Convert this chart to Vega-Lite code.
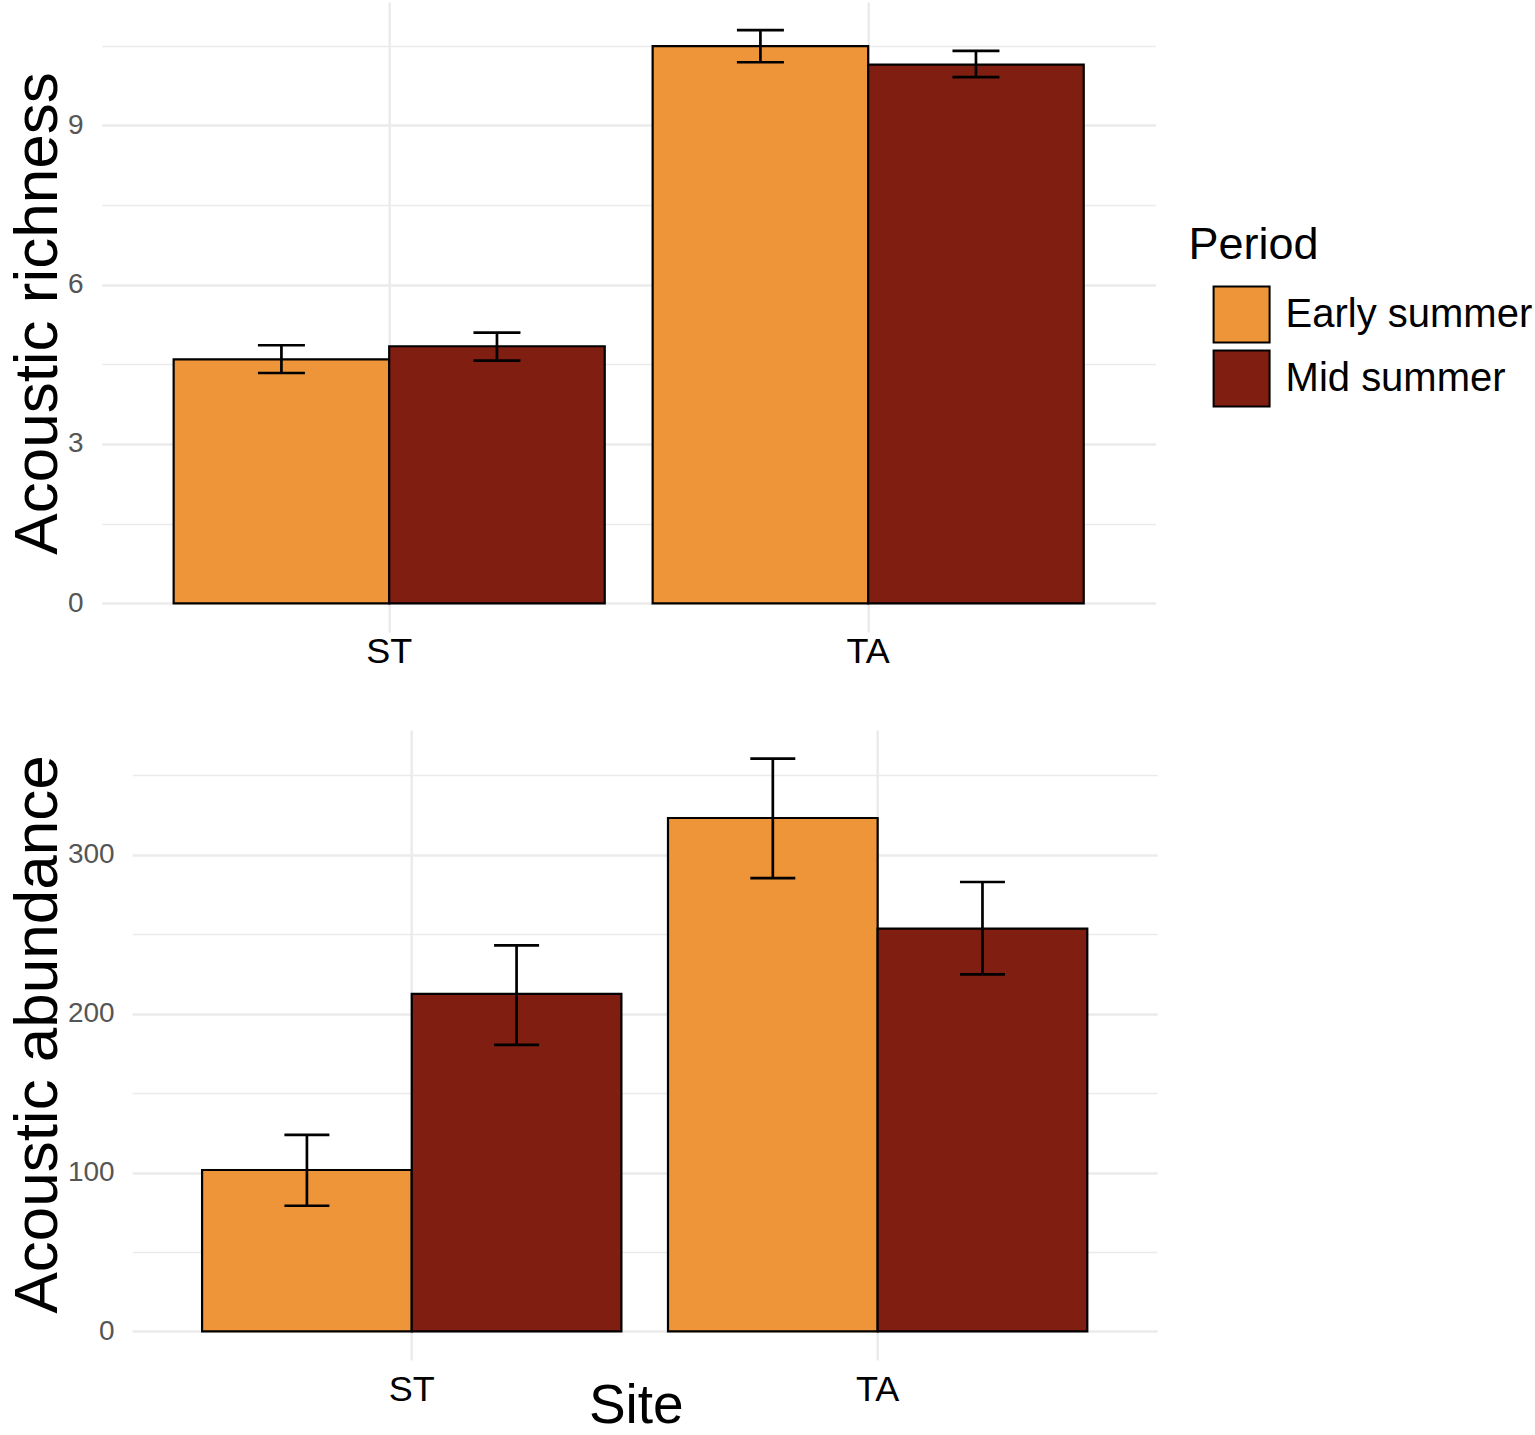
{
  "$schema": "https://vega.github.io/schema/vega-lite/v6.json",
  "background": "white",
  "padding": {"left": 5.2, "top": 2, "right": 0, "bottom": 0},
  "config": {
    "font": "Liberation Sans",
    "view": {"stroke": null},
    "axis": {"domain": false, "ticks": false, "tickSize": 0, "gridColor": "#EBEBEB", "labelFont": "Liberation Sans", "titleFont": "Liberation Sans", "titleFontWeight": "normal", "titleColor": "black"},
    "legend": {"labelFont": "Liberation Sans", "titleFont": "Liberation Sans"}
  },
  "datasets": {
    "richness": [
      {"Site": "ST", "Period": "Early summer", "mean": 4.594, "lo": 4.336, "hi": 4.858},
      {"Site": "ST", "Period": "Mid summer", "mean": 4.839, "lo": 4.570, "hi": 5.097},
      {"Site": "TA", "Period": "Early summer", "mean": 10.488, "lo": 10.186, "hi": 10.789},
      {"Site": "TA", "Period": "Mid summer", "mean": 10.143, "lo": 9.904, "hi": 10.399}
    ],
    "abundance": [
      {"Site": "ST", "Period": "Early summer", "mean": 101.6, "lo": 79.1, "hi": 123.7},
      {"Site": "ST", "Period": "Mid summer", "mean": 212.5, "lo": 180.4, "hi": 243.0},
      {"Site": "TA", "Period": "Early summer", "mean": 323.2, "lo": 285.4, "hi": 360.6},
      {"Site": "TA", "Period": "Mid summer", "mean": 253.5, "lo": 224.7, "hi": 282.9}
    ]
  },
  "columns": 1,
  "spacing": 61,
  "resolve": {"scale": {"color": "independent", "x": "independent", "xOffset": "independent", "y": "independent"}, "legend": {"color": "independent"}},
  "concat": [
    {
      "width": 1025,
      "height": 630,
      "data": {"name": "richness"},
      "encoding": {
        "x": {"field": "Site", "type": "nominal", "scale": {"range": [-30.4, 1023.4], "paddingInner": 0.1, "paddingOuter": 0.15},
              "axis": {"title": null, "labelAngle": 0, "labelFontSize": 36, "labelColor": "black", "labelPadding": 2, "grid": true, "gridWidth": 2.5}},
        "xOffset": {"field": "Period", "type": "nominal", "scale": {"paddingInner": 0, "paddingOuter": 0}}
      },
      "layer": [
        {
          "mark": {"type": "bar", "stroke": "black", "strokeWidth": 2.2},
          "encoding": {
            "y": {"field": "mean", "type": "quantitative", "title": "Acoustic richness",
                  "scale": {"domain": [-0.54, 11.32], "nice": false, "zero": false},
                  "axis": {"titleFontSize": 62, "titleX": -76, "titleY": 311, "titleBaseline": "alphabetic", "titleAngle": -90,
                           "values": [0, 1.5, 3, 4.5, 6, 7.5, 9, 10.5],
                           "labelExpr": "datum.value % 3 === 0 ? datum.label : ''",
                           "labelFontSize": 28, "labelColor": "#555555", "labelPadding": 49,
                           "grid": true, "gridWidth": {"condition": {"test": "datum.value % 3 !== 0", "value": 1.6}, "value": 2.5}}},
            "color": {"field": "Period", "type": "nominal",
                      "scale": {"domain": ["Early summer", "Mid summer"], "range": ["#ED9538", "#7F1E11"]},
                      "legend": {"orient": "none", "legendX": 1056.4, "legendY": 220.5, "title": "Period",
                                 "titleFontSize": 45, "titleFontWeight": "normal", "titleColor": "black", "titlePadding": 18,
                                 "labelFontSize": 40, "labelColor": "black", "labelOffset": 15, "labelBaseline": "middle", "labelLimit": 400,
                                 "symbolType": "square", "symbolSize": 3136, "symbolStrokeColor": "black", "symbolStrokeWidth": 2,
                                 "symbolOffset": 24, "symbolOpacity": 1, "rowPadding": 0, "padding": 0}}
          }
        },
        {
          "mark": {"type": "rule", "strokeWidth": 2.7, "color": "black"},
          "encoding": {"y": {"field": "lo", "type": "quantitative", "title": "Acoustic richness"}, "y2": {"field": "hi"}}
        },
        {
          "mark": {"type": "tick", "size": 47, "thickness": 2.7, "color": "black", "opacity": 1},
          "encoding": {"y": {"field": "lo", "type": "quantitative", "title": "Acoustic richness"}}
        },
        {
          "mark": {"type": "tick", "size": 47, "thickness": 2.7, "color": "black", "opacity": 1},
          "encoding": {"y": {"field": "hi", "type": "quantitative", "title": "Acoustic richness"}}
        }
      ]
    },
    {
      "width": 1025,
      "height": 630,
      "data": {"name": "abundance"},
      "encoding": {
        "x": {"field": "Site", "type": "nominal", "scale": {"paddingInner": 0.1, "paddingOuter": 0.15},
              "axis": {"title": "Site", "titleFontSize": 55, "titleX": 503.6, "titleY": 62.6, "titleBaseline": "alphabetic",
                       "labelAngle": 0, "labelFontSize": 36, "labelColor": "black", "labelPadding": 13, "grid": true, "gridWidth": 2.5}},
        "xOffset": {"field": "Period", "type": "nominal", "scale": {"paddingInner": 0, "paddingOuter": 0}}
      },
      "layer": [
        {
          "mark": {"type": "bar", "stroke": "black", "strokeWidth": 2.2},
          "encoding": {
            "y": {"field": "mean", "type": "quantitative", "title": "Acoustic abundance",
                  "scale": {"domain": [-18, 378.6], "nice": false, "zero": false},
                  "axis": {"titleFontSize": 62, "titleX": -76, "titleY": 304, "titleBaseline": "alphabetic", "titleAngle": -90,
                           "values": [0, 50, 100, 150, 200, 250, 300, 350],
                           "labelExpr": "datum.value % 100 === 0 ? datum.label : ''",
                           "labelFontSize": 28, "labelColor": "#555555", "labelPadding": 18,
                           "grid": true, "gridWidth": {"condition": {"test": "datum.value % 100 !== 0", "value": 1.6}, "value": 2.5}}},
            "color": {"field": "Period", "type": "nominal",
                      "scale": {"domain": ["Early summer", "Mid summer"], "range": ["#ED9538", "#7F1E11"]},
                      "legend": null}
          }
        },
        {
          "mark": {"type": "rule", "strokeWidth": 2.7, "color": "black"},
          "encoding": {"y": {"field": "lo", "type": "quantitative", "title": "Acoustic abundance"}, "y2": {"field": "hi"}}
        },
        {
          "mark": {"type": "tick", "size": 45, "thickness": 2.7, "color": "black", "opacity": 1},
          "encoding": {"y": {"field": "lo", "type": "quantitative", "title": "Acoustic abundance"}}
        },
        {
          "mark": {"type": "tick", "size": 45, "thickness": 2.7, "color": "black", "opacity": 1},
          "encoding": {"y": {"field": "hi", "type": "quantitative", "title": "Acoustic abundance"}}
        }
      ]
    }
  ]
}
